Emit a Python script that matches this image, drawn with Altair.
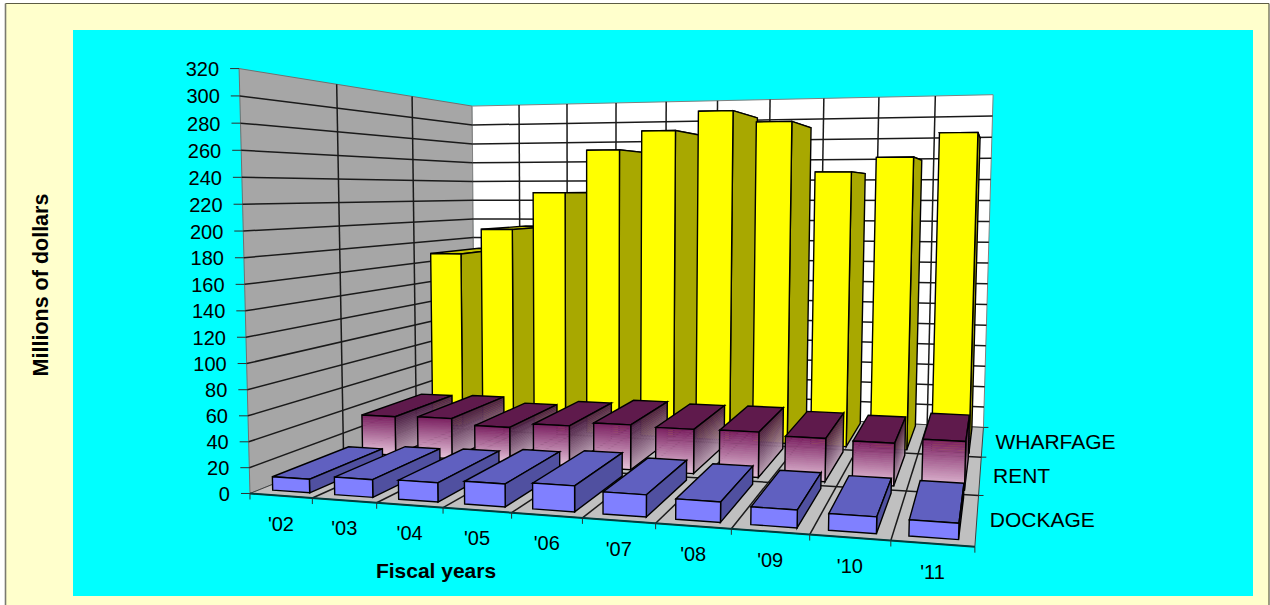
import altair as alt
import numpy as np

# Fiscal-year revenue by source, millions of dollars
YEARS = ["'02", "'03", "'04", "'05", "'06", "'07", "'08", "'09", "'10", "'11"]
DOCKAGE = [10.5, 13.5, 14.5, 17, 19, 16, 14.5, 12.5, 11.5, 11]
RENT = [34, 35, 30, 34, 37.5, 36.5, 37, 34.7, 33.8, 38]
WHARFAGE = [169, 193, 228, 267.5, 284.5, 301.5, 291, 246, 258.5, 279]
SERIES = ["DOCKAGE", "RENT", "WHARFAGE"]
VALUE_TICKS = list(range(0, 321, 20))

W, H = 1270, 605
NU, ND, TOP = len(YEARS), len(SERIES), VALUE_TICKS[-1]

# Camera calibration: chart-space corners (year, depth, value) -> screen position, with a weight
CAMERA_POINTS = [
    ((0, 0, 0), (250, 493), 4), ((10, 0, 0), (975, 547), 4), ((5, 0, 0), (583, 518), 1),
    ((0, 3, 0), (475, 409), 1), ((10, 3, 0), (983, 427), 2),
    ((0, 0, 320), (239, 69), 4), ((0, 3, 320), (473, 103), 1), ((10, 3, 320), (993, 95), 2),
    ((5, 3, 320), (718, 99), 1), ((0, 1, 320), (337, 84), 1), ((0, 2, 320), (413, 96), 1),
    ((10, 1, 0), (979, 495), 2), ((10, 2, 0), (981, 457), 2), ((0, 0, 160), (244, 284), 2),
]


def solve_camera(points):
    rows = []
    for (u, d, h), (x, y), weight in points:
        p = [u / 10, d / 3, h / 320, 1]
        x, y = x / 1000, y / 1000
        rows.append([weight * c for c in p + [0, 0, 0, 0] + [-x * c for c in p]])
        rows.append([weight * c for c in [0, 0, 0, 0] + p + [-y * c for c in p]])
    return np.linalg.svd(np.array(rows))[2][-1].reshape(3, 4)


CAMERA = solve_camera(CAMERA_POINTS)


def project(u, d, h):
    v = CAMERA @ np.array([u / 10, d / 3, h / 320, 1])
    return [float(v[0] / v[2] * 1000), float(v[1] / v[2] * 1000)]


features = []


def polygon(corners, fill, stroke="none", width=0.0):
    ring = list(corners) + [corners[0]]
    features.append({"type": "Feature", "geometry": {"type": "Polygon", "coordinates": [ring]},
                     "properties": {"fill": fill, "stroke": stroke, "sw": width}})


def line(a, b, stroke="#1a1a1a", width=1.5):
    features.append({"type": "Feature", "geometry": {"type": "LineString", "coordinates": [a, b]},
                     "properties": {"fill": "none", "stroke": stroke, "sw": width}})


def mix(a, b, t):
    ca = [int(a[i:i + 2], 16) for i in (1, 3, 5)]
    cb = [int(b[i:i + 2], 16) for i in (1, 3, 5)]
    return "#" + "".join(f"{round(x + (y - x) * t):02x}" for x, y in zip(ca, cb))


def shaded_face(p0, p1, value, top_col, bottom_col, bands=22):
    """Vertical face p0-p1 shaded from top to floor as thin horizontal bands."""
    for k in range(bands):
        h0 = value * k / bands
        h1 = value * (k + 1) / bands
        col = mix(bottom_col, top_col, (k + 0.5) / bands)
        polygon([project(*p0, h0), project(*p1, h0), project(*p1, h1), project(*p0, h1)], col, col, 0.5)
    polygon([project(*p0, 0), project(*p1, 0), project(*p1, value), project(*p0, value)],
            "none", "#000000", 1.4)


def bar(i, k, value, front, side, top):
    u0, u1 = i + 0.2, i + 0.8
    d0, d1 = k + 0.1, k + 0.93
    polygon([project(u0, d0, value), project(u1, d0, value), project(u1, d1, value), project(u0, d1, value)],
            top, "#000000", 1.4)
    if isinstance(side, tuple):
        shaded_face((u1, d0), (u1, d1), value, *side)
    else:
        polygon([project(u1, d0, 0), project(u1, d1, 0), project(u1, d1, value), project(u1, d0, value)],
                side, "#000000", 1.4)
    if isinstance(front, tuple):
        shaded_face((u0, d0), (u1, d0), value, *front)
    else:
        polygon([project(u0, d0, 0), project(u1, d0, 0), project(u1, d0, value), project(u0, d0, value)],
                front, "#000000", 1.4)


# Page and plot panel; the first rectangle also pins the identity projection to pixels
polygon([[0, 0], [W, 0], [W, H], [0, H]], "#ffffff")
polygon([[5, 3], [1269, 3], [1269, H], [5, H]], "#ffffcc")
line([5.5, 3.5], [1269, 3.5], "#5c5c44", 1.2)
line([5.5, 3.5], [5.5, H], "#7a7a70", 1.6)
line([1269, 3.5], [1269, H], "#5c5c44", 1.2)
polygon([[73, 30], [1253, 30], [1253, 596], [73, 596]], "#00ffff")

# Walls and floor
polygon([project(0, 0, 0), project(0, ND, 0), project(0, ND, TOP), project(0, 0, TOP)], "#a6a6a6", "#707070", 1)
polygon([project(0, ND, 0), project(NU, ND, 0), project(NU, ND, TOP), project(0, ND, TOP)], "#ffffff", "#808080", 1)
polygon([project(0, 0, 0), project(NU, 0, 0), project(NU, ND, 0), project(0, ND, 0)], "#c0c0c0", "#404040", 1)

# Gridlines
for v in VALUE_TICKS[1:-1]:
    line(project(0, 0, v), project(0, ND, v))
    line(project(0, ND, v), project(NU, ND, v))
for k in range(1, ND):
    line(project(0, k, 0), project(0, k, TOP))
    line(project(0, k, 0), project(NU, k, 0))
for i in range(1, NU):
    line(project(i, ND, 0), project(i, ND, TOP))
    line(project(i, 0, 0), project(i, ND, 0))

# Axis edge and tick marks
line(project(0, 0, 0), project(NU, 0, 0), "#003c3c", 2)
for v in VALUE_TICKS:
    a = project(0, 0, v)
    line(a, [a[0] - 9, a[1]], "#303030", 1)
for i in range(NU + 1):
    a = project(i, 0, 0)
    line(a, [a[0], a[1] + 6], "#303030", 1)
for k in range(1, ND + 1):
    a = project(NU, k, 0)
    line(a, [a[0] + 5, a[1]], "#303030", 1)

# Bars, back row first so nearer rows cover farther ones
for i, v in enumerate(WHARFAGE):
    bar(i, 2, v, "#ffff00", "#a8a800", "#c8c800")
for i, v in enumerate(RENT):
    bar(i, 1, v, ("#7a1f60", "#e8c4dc"), ("#4a1d42", "#b89cb0"), "#5f1a4c")
for i, v in enumerate(DOCKAGE):
    bar(i, 0, v, "#8080ff", "#5050a0", "#6060c0")

shapes = alt.Chart(alt.Data(values=features)).mark_geoshape().encode(
    fill=alt.Fill("properties.fill:N", scale=None),
    stroke=alt.Stroke("properties.stroke:N", scale=None),
    strokeWidth=alt.StrokeWidth("properties.sw:Q", scale=None),
).project(type="identity")

FONT = "Liberation Sans"
value_rows = [{"t": str(v), "x": project(0, 0, v)[0] - 20, "y": project(0, 0, v)[1] + 1.5} for v in VALUE_TICKS]
year_rows = [{"t": y, "x": project(i + 0.5, 0, 0)[0], "y": project(i + 0.5, 0, 0)[1] + 29}
             for i, y in enumerate(YEARS)]
series_rows = [{"t": s, "x": project(NU, k + 0.5, 0)[0] + 13, "y": project(NU, k + 0.5, 0)[1] + 1.5}
               for k, s in enumerate(SERIES)]


def labels(rows, **mark):
    return alt.Chart(alt.Data(values=rows)).mark_text(font=FONT, color="#000000", baseline="middle", **mark).encode(
        x=alt.X("x:Q", scale=None), y=alt.Y("y:Q", scale=None), text="t:N")


value_text = labels(value_rows, align="right", fontSize=20)
year_text = labels(year_rows, align="center", fontSize=20)
series_text = labels(series_rows, align="left", fontSize=21)
x_title = labels([{"t": "Fiscal years", "x": 436, "y": 572}], align="center", fontSize=21, fontWeight="bold")
y_title = labels([{"t": "Millions of dollars", "x": 42, "y": 285}], align="center", fontSize=21.5,
                 fontWeight="bold", angle=270)

chart = alt.layer(shapes, value_text, year_text, series_text, x_title, y_title).properties(
    width=W, height=H, padding=0, autosize=alt.AutoSizeParams(type="none")
).configure_view(stroke=None)

chart.save("out.html", embed_options={"renderer": "svg", "actions": False})
